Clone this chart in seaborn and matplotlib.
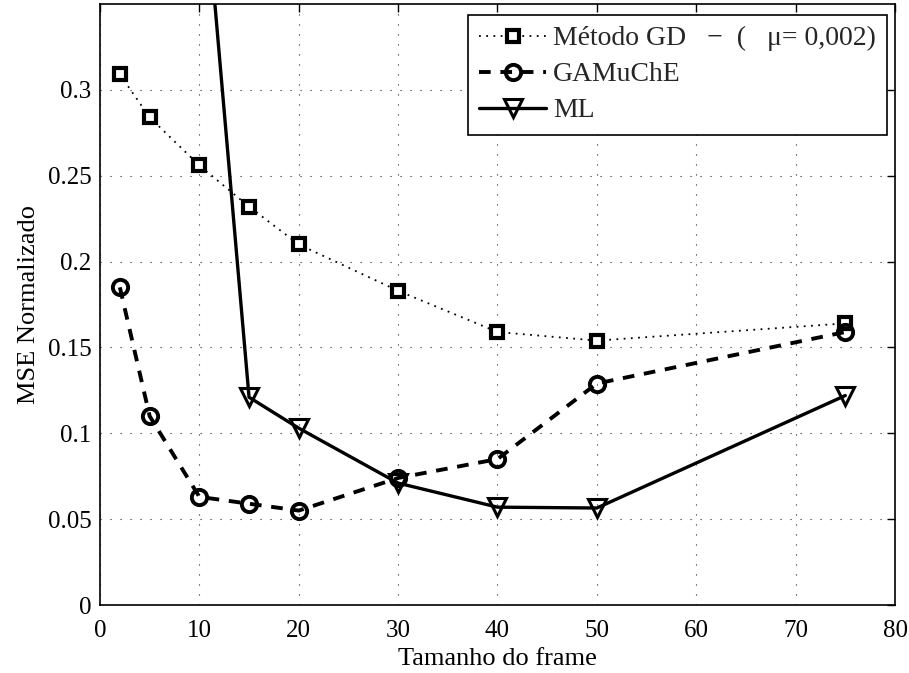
import matplotlib
matplotlib.use("Agg")
import matplotlib.pyplot as plt
import seaborn as sns
import pandas as pd

# Data
frame_sizes = [2, 5, 10, 15, 20, 30, 40, 50, 75]
gd_values = [0.309, 0.284, 0.256, 0.232, 0.210, 0.183, 0.159, 0.154, 0.164]
gamuche_values = [0.185, 0.110, 0.063, 0.059, 0.055, 0.074, 0.085, 0.129, 0.159]
ml_x = [10, 15, 20, 30, 40, 50, 75]
ml_values = [0.454, 0.121, 0.103, 0.071, 0.057, 0.0565, 0.122]

labels = ["Método GD   −  (   μ= 0,002)", "GAMuChE", "ML"]
xticks = [0, 10, 20, 30, 40, 50, 60, 70, 80]
yticks = [0, 0.05, 0.1, 0.15, 0.2, 0.25, 0.3]
yticklabels = ["0", "0.05", "0.1", "0.15", "0.2", "0.25", "0.3"]

sns.set_theme(style="white")
plt.rcParams['font.family'] = ['Liberation Serif', 'DejaVu Serif']

fig = plt.figure(figsize=(9.09, 6.73), dpi=100)
ax = fig.add_axes([0.110, 0.101, 0.8746, 0.893])

df_gd = pd.DataFrame({"x": frame_sizes, "y": gd_values})
df_ga = pd.DataFrame({"x": frame_sizes, "y": gamuche_values})
df_ml = pd.DataFrame({"x": ml_x, "y": ml_values})

sns.lineplot(data=df_gd, x="x", y="y", ax=ax, color="black", linestyle=(0, (1, 3)),
             linewidth=1.3, marker="s", markersize=8.5, markeredgewidth=3,
             markerfacecolor="white", markeredgecolor="black", label=labels[0])
sns.lineplot(data=df_ga, x="x", y="y", ax=ax, color="black", linestyle=(0, (3, 2.5)),
             linewidth=2.8, marker="o", markersize=11, markeredgewidth=2.8,
             markerfacecolor="none", markeredgecolor="black", label=labels[1])
sns.lineplot(data=df_ml, x="x", y="y", ax=ax, color="black", linestyle="-",
             linewidth=2.4, marker="v", markersize=12.5, markeredgewidth=2.2,
             markerfacecolor="none", markeredgecolor="black", label=labels[2])

ax.set_xlim(0, 80)
ax.set_ylim(0, 0.35)
ax.set_xticks(xticks)
ax.set_xticklabels([str(t) for t in xticks])
ax.set_yticks(yticks)
ax.set_yticklabels(yticklabels)
ax.grid(True, linestyle=(0, (1, 8)), color="black", linewidth=0.8, alpha=0.85)
ax.tick_params(direction="in", length=6, width=1, top=True, right=True,
               labelsize=18, colors="black")
ax.tick_params(axis="x", pad=11)
ax.tick_params(axis="y", pad=6)
for s in ax.spines.values():
    s.set_visible(True)
    s.set_color("black")
    s.set_linewidth(1.2)

ax.set_xlabel("Tamanho do frame", fontsize=19, labelpad=4, color="black")
ax.set_ylabel("MSE Normalizado", fontsize=19, labelpad=6, color="black")

leg = ax.legend(loc="upper right", fontsize=20, frameon=True, fancybox=False,
                edgecolor="black", framealpha=1, handlelength=2.4,
                borderpad=0.4, labelspacing=0.38, handletextpad=0.25,
                borderaxespad=0.0, bbox_to_anchor=(0.990, 0.982))
leg.get_frame().set_linewidth(1.2)

fig.savefig("out.png", dpi=100)
